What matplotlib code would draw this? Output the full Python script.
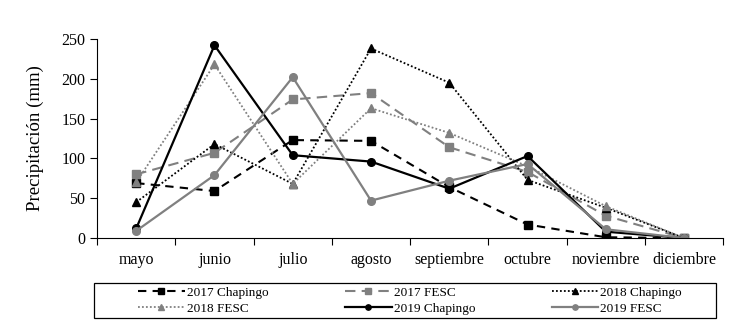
import matplotlib.pyplot as plt
from matplotlib.patches import Rectangle

plt.rcParams['font.family'] = ['Liberation Serif', 'DejaVu Serif']

meses = ["mayo", "junio", "julio", "agosto", "septiembre", "octubre", "noviembre", "diciembre"]

chapingo_2017 = [69, 59, 123, 122, 64, 17, 1, 0]
fesc_2017 = [80, 107, 174, 182, 114, 83, 28, 0]
chapingo_2018 = [45, 118, 68, 238, 195, 73, 38, 0]
fesc_2018 = [70, 218, 68, 163, 132, 90, 40, 0]
chapingo_2019 = [12, 242, 104, 96, 62, 103, 8, 0]
fesc_2019 = [9, 79, 202, 47, 72, 93, 11, 0]

gris = "#808080"
x = list(range(len(meses)))

fig = plt.figure(figsize=(7.41, 3.27), dpi=100)
ax = fig.add_axes([0.131, 0.272, 0.845, 0.609])

l1, = ax.plot(x, chapingo_2017, color="black", ls=(0, (4, 3)), lw=1.5, marker="s", ms=5.5, label="2017 Chapingo")
l2, = ax.plot(x, fesc_2017, color=gris, ls=(0, (5, 3)), lw=1.5, marker="s", ms=5.5, label="2017 FESC")
l3, = ax.plot(x, chapingo_2018, color="black", ls=(0, (1, 1.2)), lw=1.3, marker="^", ms=5.5, label="2018 Chapingo")
l4, = ax.plot(x, fesc_2018, color=gris, ls=(0, (1, 1.2)), lw=1.3, marker="^", ms=5.5, label="2018 FESC")
l5, = ax.plot(x, chapingo_2019, color="black", ls="-", lw=1.6, marker="o", ms=5.5, label="2019 Chapingo")
l6, = ax.plot(x, fesc_2019, color=gris, ls="-", lw=1.6, marker="o", ms=5.5, label="2019 FESC")

ax.set_xlim(-0.5, len(meses) - 0.5)
ax.set_ylim(0, 250)
ax.set_yticks([0, 50, 100, 150, 200, 250])
ax.set_ylabel("Precipitación (mm)", fontsize=13.5)
ax.yaxis.set_label_coords(-0.084, 0.5)

# month names sit between tick marks
ax.set_xticks([i - 0.5 for i in range(len(meses) + 1)])
ax.set_xticklabels([])
ax.set_xticks(x, minor=True)
ax.set_xticklabels(meses, minor=True, fontsize=11.5)
ax.tick_params(axis="x", which="minor", length=0, pad=10)
ax.tick_params(axis="x", which="major", direction="out", length=5)
ax.tick_params(axis="y", direction="out", length=5, labelsize=11.5)

ax.spines["top"].set_visible(False)
ax.spines["right"].set_visible(False)

# legend without its own frame, box drawn separately
handles = [l1, l4, l2, l5, l3, l6]
fig.legend(handles=handles, loc="center left", ncol=3,
           bbox_to_anchor=(0.186, 0.081),
           fontsize=9.5, frameon=False, markerscale=0.7,
           handlelength=3.55, handletextpad=0.15, borderpad=0, borderaxespad=0,
           labelspacing=0.3, columnspacing=5.8)
fig.patches.append(Rectangle((0.1269, 0.0275), 0.839, 0.107, transform=fig.transFigure,
                             fill=False, edgecolor="black", lw=0.9))

fig.savefig("out.png", dpi=100)
